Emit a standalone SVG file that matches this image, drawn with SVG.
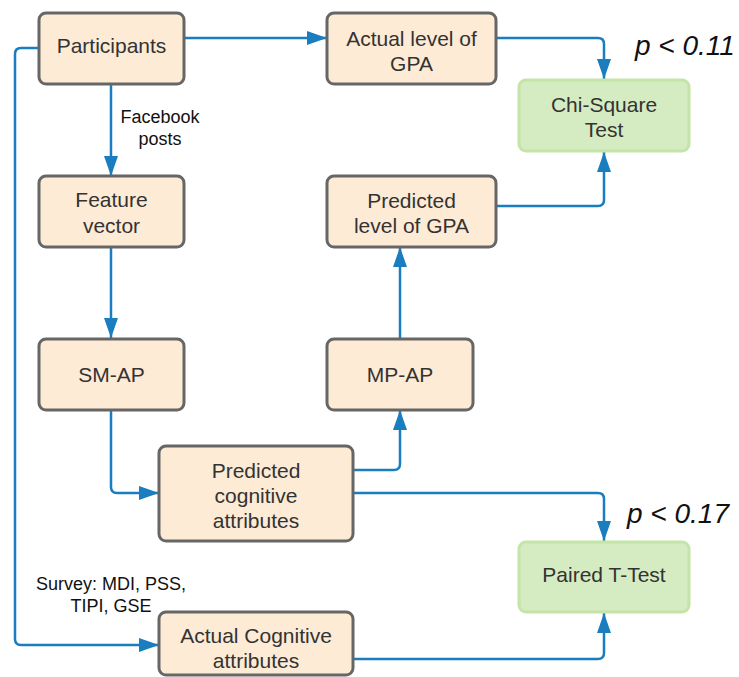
<svg xmlns="http://www.w3.org/2000/svg" width="739" height="677" viewBox="0 0 739 677">
<defs>
<marker id="ah" markerWidth="20" markerHeight="14" refX="20" refY="7" orient="auto" markerUnits="userSpaceOnUse">
<path d="M0,0 L20,7 L0,14 Z" fill="#1a7dc0"/>
</marker>
<style>
.n rect{fill:#fdebd6;stroke:#666;stroke-width:3}
.g rect{fill:#d5ebc2;stroke:#c4e4a8;stroke-width:3}
.n text,.g text{font-family:"Liberation Sans",Arial,sans-serif;font-size:21px;fill:#333;text-anchor:middle}
.c path{fill:none;stroke:#1a7dc0;stroke-width:2.5;marker-end:url(#ah)}
.lbl{font-family:"Liberation Sans",Arial,sans-serif;font-size:18px;fill:#111;text-anchor:middle}
.p{font-family:"Liberation Sans",Arial,sans-serif;font-size:28px;font-style:italic;fill:#111}
</style>
</defs>
<rect width="739" height="677" fill="#fff"/>
<g id="connectors" class="c">
<path d="M184,38 H327"/>
<path d="M111,84 V176"/>
<path d="M111,247 V338"/>
<path d="M111,410 V487 Q111,493 117,493 H159"/>
<path d="M353,470 H394 Q400,470 400,464 V410"/>
<path d="M400,340 V247"/>
<path d="M496,206 H598 Q604,206 604,200 V152"/>
<path d="M496,38 H598 Q604,38 604,44 V79"/>
<path d="M353,493 H598 Q604,493 604,499 V541"/>
<path d="M353,659 H598 Q604,659 604,653 V613"/>
<path d="M39,48 H21 Q15,48 15,54 V639 Q15,645 21,645 H159"/>
</g>
<text class="lbl" x="160" y="123">Facebook</text>
<text class="lbl" x="160" y="145">posts</text>
<text class="lbl" x="111" y="590">Survey: MDI, PSS,</text>
<text class="lbl" x="111" y="612">TIPI, GSE</text>
<g id="participants" class="n"><rect x="39" y="13" width="145" height="71" rx="7"/><text x="111.5" y="53">Participants</text></g>
<g id="feature-vector" class="n"><rect x="39" y="176" width="145" height="71" rx="7"/><text x="111.5" y="207">Feature</text><text x="111.5" y="233">vector</text></g>
<g id="sm-ap" class="n"><rect x="39" y="339" width="145" height="71" rx="7"/><text x="111.5" y="382">SM-AP</text></g>
<g id="actual-gpa" class="n"><rect x="327" y="13" width="169" height="71" rx="7"/><text x="411.5" y="46">Actual level of</text><text x="411.5" y="71">GPA</text></g>
<g id="predicted-gpa" class="n"><rect x="327" y="176" width="169" height="71" rx="7"/><text x="411.5" y="208">Predicted</text><text x="411.5" y="233">level of GPA</text></g>
<g id="mp-ap" class="n"><rect x="327" y="339" width="146" height="71" rx="7"/><text x="400" y="382">MP-AP</text></g>
<g id="predicted-cognitive" class="n"><rect x="159" y="446" width="194" height="95" rx="7"/><text x="256" y="478">Predicted</text><text x="256" y="503">cognitive</text><text x="256" y="528">attributes</text></g>
<g id="actual-cognitive" class="n"><rect x="159" y="612" width="194" height="63" rx="7"/><text x="256" y="643">Actual Cognitive</text><text x="256" y="668">attributes</text></g>
<g id="chi-square" class="g"><rect x="519" y="80" width="170" height="71" rx="7"/><text x="604" y="112">Chi-Square</text><text x="604" y="137">Test</text></g>
<g id="paired-t-test" class="g"><rect x="519" y="542" width="170" height="70" rx="7"/><text x="604" y="582">Paired T-Test</text></g>
<text class="p" x="635" y="55">p &lt; 0.11</text>
<text class="p" x="627" y="523">p &lt; 0.17</text>
</svg>
